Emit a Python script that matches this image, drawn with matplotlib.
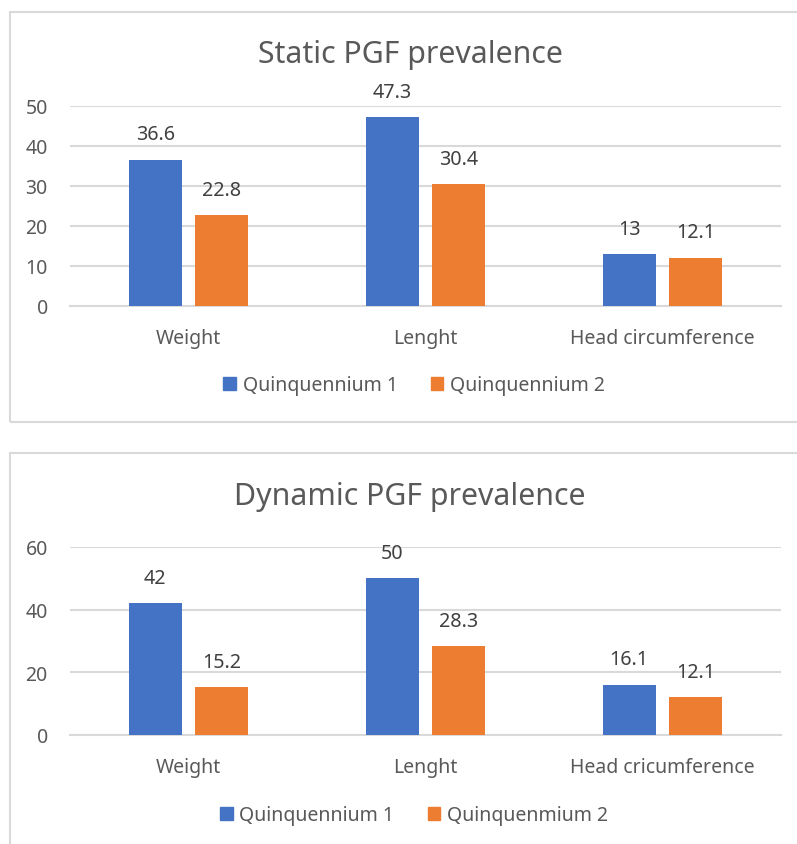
import matplotlib.pyplot as plt
import matplotlib.patches as mpatches
import numpy as np

plt.rcParams['font.family'] = ['Noto Sans', 'DejaVu Sans']

# data
cats_static = ["Weight", "Lenght", "Head circumference"]
static_q1 = [36.6, 47.3, 13]
static_q2 = [22.8, 30.4, 12.1]

cats_dynamic = ["Weight", "Lenght", "Head cricumference"]
dynamic_q1 = [42, 50, 16.1]
dynamic_q2 = [15.2, 28.3, 12.1]

legend_static = ["Quinquennium 1", "Quinquennium 2"]
legend_dynamic = ["Quinquennium 1", "Quinquenmium 2"]

BLUE = "#4472C4"
ORANGE = "#ED7D31"
TXT = "#595959"
GRID = "#D9D9D9"

W, H = 797, 845
fig = plt.figure(figsize=(W / 100, H / 100), dpi=100)


def px_axes(x0, y0, x1, y1):
    # pixel box (top-left origin) -> figure axes
    return fig.add_axes([x0 / W, 1 - y1 / H, (x1 - x0) / W, (y1 - y0) / H])


def frame(x0, y0, x1, y1):
    r = mpatches.Rectangle((x0 / W, 1 - y1 / H), (x1 - x0) / W, (y1 - y0) / H,
                           transform=fig.transFigure, fill=False,
                           edgecolor=GRID, lw=1.5)
    fig.patches.append(r)


def chart(box, cats, q1, q2, ymax, step, title, title_y, leg_labels, leg_y):
    ax = px_axes(*box)
    x = np.arange(len(cats))
    bw = 0.224
    off = 0.141
    b1 = ax.bar(x - off, q1, bw, color=BLUE, zorder=3)
    b2 = ax.bar(x + off, q2, bw, color=ORANGE, zorder=3)
    for bars, vals in ((b1, q1), (b2, q2)):
        for b, v in zip(bars, vals):
            ax.annotate(f"{v:g}", (b.get_x() + b.get_width() / 2, v),
                        xytext=(0, 11), textcoords="offset points",
                        ha="center", va="bottom", fontsize=14.2, color="#404040")
    ax.set_xlim(-0.5, len(cats) - 0.5)
    ax.set_ylim(0, ymax)
    ax.set_yticks(np.arange(0, ymax + 1, step))
    ax.set_xticks(x)
    ax.set_xticklabels(cats)
    ax.yaxis.grid(True, color=GRID, lw=1.5, zorder=0)
    for s in ax.spines.values():
        s.set_visible(False)
    ax.spines['bottom'].set_visible(True)
    ax.spines['bottom'].set_color(GRID)
    ax.spines['bottom'].set_linewidth(1.5)
    ax.tick_params(axis='y', length=0, pad=16, labelsize=14, labelcolor=TXT)
    ax.tick_params(axis='x', length=0, pad=16, labelsize=14, labelcolor=TXT)
    fig.text(410 / W, 1 - title_y / H, title, ha="center", va="center",
             fontsize=21.8, color=TXT)
    handles = [mpatches.Patch(color=BLUE), mpatches.Patch(color=ORANGE)]
    fig.legend(handles, leg_labels, loc="center", bbox_to_anchor=(414 / W, 1 - leg_y / H),
               ncol=2, frameon=False, fontsize=14, labelcolor=TXT,
               handlelength=0.65, handleheight=0.65, handletextpad=0.35, columnspacing=1.7)
    return ax


frame(10, 13, 810, 423)
frame(10, 454, 810, 860)

chart((70, 107, 781, 307), cats_static, static_q1, static_q2, 50, 10,
      "Static PGF prevalence", 55, legend_static, 386)
chart((70, 548, 781, 736), cats_dynamic, dynamic_q1, dynamic_q2, 60, 20,
      "Dynamic PGF prevalence", 497, legend_dynamic, 816)

fig.savefig("out.png", dpi=100)
